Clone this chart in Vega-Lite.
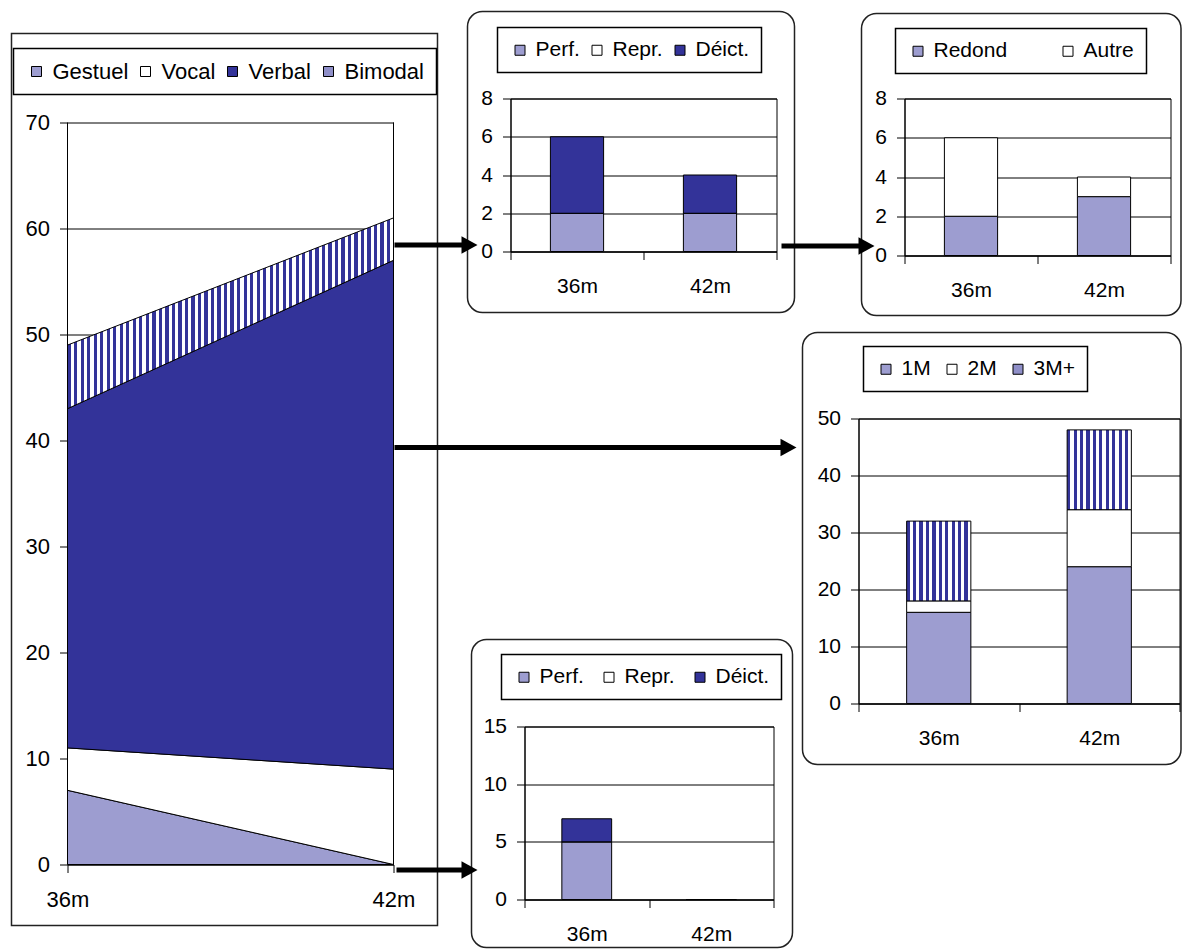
{
"$schema": "https://vega.github.io/schema/vega-lite/v6.json",
"padding": {"left": 10.5, "top": 10.5, "right": 0, "bottom": 0},
"background": "white",
"datasets": {"one": [{"s": 0}]},
"config": {
 "font": "Liberation Sans",
 "view": {"stroke": "#000", "strokeWidth": 1},
 "axis": {"labelFont": "Liberation Sans", "labelFontSize": 21, "labelColor": "#000", "domainColor": "#000", "domainWidth": 1, "tickColor": "#000", "tickWidth": 1, "tickSize": 8, "gridColor": "#000", "gridOpacity": 1, "gridWidth": 1, "labelPadding": 10},
 "axisX": {"labelPadding": 16, "labelAngle": 0, "grid": false},
 "axisY": {"grid": true},
 "legend": {"orient": "none", "direction": "horizontal", "symbolType": "square", "symbolSize": 100, "symbolStrokeColor": "#000", "symbolStrokeWidth": 1, "labelFont": "Liberation Sans", "labelFontSize": 21, "labelColor": "#000", "labelOffset": 5, "padding": 12, "strokeColor": "#000", "strokeWidth": 1.5, "fillColor": "#fff"}
},
"concat": [
 {
  "width": 326, "height": 766,
  "view": {"stroke": null},
  "layer": [
   {
    "data": {"values": [
     {"age": 36, "type": "Gestuel", "value": 7, "k": 1},
     {"age": 36, "type": "Vocal", "value": 4, "k": 2},
     {"age": 36, "type": "Verbal", "value": 32, "k": 3},
     {"age": 36, "type": "Bimodal", "value": 6, "k": 4},
     {"age": 42, "type": "Gestuel", "value": 0, "k": 1},
     {"age": 42, "type": "Vocal", "value": 9, "k": 2},
     {"age": 42, "type": "Verbal", "value": 48, "k": 3},
     {"age": 42, "type": "Bimodal", "value": 4, "k": 4}
    ]},
    "mark": {"type": "area", "stroke": "#000", "strokeWidth": 1},
    "encoding": {
     "x": {"field": "age", "type": "quantitative", "scale": {"domain": [36, 42], "nice": false, "zero": false}, "axis": {"title": null, "values": [36, 42], "labelExpr": "datum.value + 'm'", "labelFlush": false, "labelFontSize": 22, "labelPadding": 17, "grid": false}},
     "y": {"field": "value", "type": "quantitative", "stack": "zero", "scale": {"domain": [0, 72.2642], "nice": false, "zero": true}, "axis": {"title": null, "values": [0, 10, 20, 30, 40, 50, 60, 70], "labelFontSize": 22, "domain": false, "grid": true}},
     "fill": {"field": "type", "type": "nominal",
      "scale": {"domain": ["Gestuel", "Vocal", "Verbal", "Bimodal"], "range": ["#9d9dd0", "#ffffff", "#333399", "#8f8fc8"]},
      "legend": {"title": null, "orient": "none", "legendX": -54, "legendY": -50, "labelFontSize": 22, "columnPadding": 6,
       "encode": {"symbols": {"update": {"stroke": {"value": "#000"}, "strokeWidth": {"value": 1}, "fill": [{"test": "datum.value === 'Gestuel'", "value": "#9d9dd0"}, {"test": "datum.value === 'Verbal'", "value": "#333399"}, {"test": "datum.value === 'Bimodal'", "value": {"gradient": "linear", "x1": 0, "y1": 0, "x2": 1, "y2": 0, "stops": [{"offset": 0, "color": "#fff"}, {"offset": 0.3, "color": "#fff"}, {"offset": 0.3, "color": "#339"}, {"offset": 0.7, "color": "#339"}, {"offset": 0.7, "color": "#fff"}, {"offset": 1, "color": "#fff"}]}}, {"value": "#ffffff"}]}}}},
      "condition": {"test": "datum.type === 'Bimodal'", "value": {"gradient": "linear", "x1": 0, "y1": 0, "x2": 1, "y2": 0, "stops": [
{"offset":0,"color":"#339"},{"offset":0.01,"color":"#339"},{"offset":0.01,"color":"#fff"},{"offset":0.02,"color":"#fff"},
{"offset":0.02,"color":"#339"},{"offset":0.03,"color":"#339"},{"offset":0.03,"color":"#fff"},{"offset":0.04,"color":"#fff"},
{"offset":0.04,"color":"#339"},{"offset":0.05,"color":"#339"},{"offset":0.05,"color":"#fff"},{"offset":0.06,"color":"#fff"},
{"offset":0.06,"color":"#339"},{"offset":0.07,"color":"#339"},{"offset":0.07,"color":"#fff"},{"offset":0.08,"color":"#fff"},
{"offset":0.08,"color":"#339"},{"offset":0.09,"color":"#339"},{"offset":0.09,"color":"#fff"},{"offset":0.10,"color":"#fff"},
{"offset":0.10,"color":"#339"},{"offset":0.11,"color":"#339"},{"offset":0.11,"color":"#fff"},{"offset":0.12,"color":"#fff"},
{"offset":0.12,"color":"#339"},{"offset":0.13,"color":"#339"},{"offset":0.13,"color":"#fff"},{"offset":0.14,"color":"#fff"},
{"offset":0.14,"color":"#339"},{"offset":0.15,"color":"#339"},{"offset":0.15,"color":"#fff"},{"offset":0.16,"color":"#fff"},
{"offset":0.16,"color":"#339"},{"offset":0.17,"color":"#339"},{"offset":0.17,"color":"#fff"},{"offset":0.18,"color":"#fff"},
{"offset":0.18,"color":"#339"},{"offset":0.19,"color":"#339"},{"offset":0.19,"color":"#fff"},{"offset":0.20,"color":"#fff"},
{"offset":0.20,"color":"#339"},{"offset":0.21,"color":"#339"},{"offset":0.21,"color":"#fff"},{"offset":0.22,"color":"#fff"},
{"offset":0.22,"color":"#339"},{"offset":0.23,"color":"#339"},{"offset":0.23,"color":"#fff"},{"offset":0.24,"color":"#fff"},
{"offset":0.24,"color":"#339"},{"offset":0.25,"color":"#339"},{"offset":0.25,"color":"#fff"},{"offset":0.26,"color":"#fff"},
{"offset":0.26,"color":"#339"},{"offset":0.27,"color":"#339"},{"offset":0.27,"color":"#fff"},{"offset":0.28,"color":"#fff"},
{"offset":0.28,"color":"#339"},{"offset":0.29,"color":"#339"},{"offset":0.29,"color":"#fff"},{"offset":0.30,"color":"#fff"},
{"offset":0.30,"color":"#339"},{"offset":0.31,"color":"#339"},{"offset":0.31,"color":"#fff"},{"offset":0.32,"color":"#fff"},
{"offset":0.32,"color":"#339"},{"offset":0.33,"color":"#339"},{"offset":0.33,"color":"#fff"},{"offset":0.34,"color":"#fff"},
{"offset":0.34,"color":"#339"},{"offset":0.35,"color":"#339"},{"offset":0.35,"color":"#fff"},{"offset":0.36,"color":"#fff"},
{"offset":0.36,"color":"#339"},{"offset":0.37,"color":"#339"},{"offset":0.37,"color":"#fff"},{"offset":0.38,"color":"#fff"},
{"offset":0.38,"color":"#339"},{"offset":0.39,"color":"#339"},{"offset":0.39,"color":"#fff"},{"offset":0.40,"color":"#fff"},
{"offset":0.40,"color":"#339"},{"offset":0.41,"color":"#339"},{"offset":0.41,"color":"#fff"},{"offset":0.42,"color":"#fff"},
{"offset":0.42,"color":"#339"},{"offset":0.43,"color":"#339"},{"offset":0.43,"color":"#fff"},{"offset":0.44,"color":"#fff"},
{"offset":0.44,"color":"#339"},{"offset":0.45,"color":"#339"},{"offset":0.45,"color":"#fff"},{"offset":0.46,"color":"#fff"},
{"offset":0.46,"color":"#339"},{"offset":0.47,"color":"#339"},{"offset":0.47,"color":"#fff"},{"offset":0.48,"color":"#fff"},
{"offset":0.48,"color":"#339"},{"offset":0.49,"color":"#339"},{"offset":0.49,"color":"#fff"},{"offset":0.50,"color":"#fff"},
{"offset":0.50,"color":"#339"},{"offset":0.51,"color":"#339"},{"offset":0.51,"color":"#fff"},{"offset":0.52,"color":"#fff"},
{"offset":0.52,"color":"#339"},{"offset":0.53,"color":"#339"},{"offset":0.53,"color":"#fff"},{"offset":0.54,"color":"#fff"},
{"offset":0.54,"color":"#339"},{"offset":0.55,"color":"#339"},{"offset":0.55,"color":"#fff"},{"offset":0.56,"color":"#fff"},
{"offset":0.56,"color":"#339"},{"offset":0.57,"color":"#339"},{"offset":0.57,"color":"#fff"},{"offset":0.58,"color":"#fff"},
{"offset":0.58,"color":"#339"},{"offset":0.59,"color":"#339"},{"offset":0.59,"color":"#fff"},{"offset":0.60,"color":"#fff"},
{"offset":0.60,"color":"#339"},{"offset":0.61,"color":"#339"},{"offset":0.61,"color":"#fff"},{"offset":0.62,"color":"#fff"},
{"offset":0.62,"color":"#339"},{"offset":0.63,"color":"#339"},{"offset":0.63,"color":"#fff"},{"offset":0.64,"color":"#fff"},
{"offset":0.64,"color":"#339"},{"offset":0.65,"color":"#339"},{"offset":0.65,"color":"#fff"},{"offset":0.66,"color":"#fff"},
{"offset":0.66,"color":"#339"},{"offset":0.67,"color":"#339"},{"offset":0.67,"color":"#fff"},{"offset":0.68,"color":"#fff"},
{"offset":0.68,"color":"#339"},{"offset":0.69,"color":"#339"},{"offset":0.69,"color":"#fff"},{"offset":0.70,"color":"#fff"},
{"offset":0.70,"color":"#339"},{"offset":0.71,"color":"#339"},{"offset":0.71,"color":"#fff"},{"offset":0.72,"color":"#fff"},
{"offset":0.72,"color":"#339"},{"offset":0.73,"color":"#339"},{"offset":0.73,"color":"#fff"},{"offset":0.74,"color":"#fff"},
{"offset":0.74,"color":"#339"},{"offset":0.75,"color":"#339"},{"offset":0.75,"color":"#fff"},{"offset":0.76,"color":"#fff"},
{"offset":0.76,"color":"#339"},{"offset":0.77,"color":"#339"},{"offset":0.77,"color":"#fff"},{"offset":0.78,"color":"#fff"},
{"offset":0.78,"color":"#339"},{"offset":0.79,"color":"#339"},{"offset":0.79,"color":"#fff"},{"offset":0.80,"color":"#fff"},
{"offset":0.80,"color":"#339"},{"offset":0.81,"color":"#339"},{"offset":0.81,"color":"#fff"},{"offset":0.82,"color":"#fff"},
{"offset":0.82,"color":"#339"},{"offset":0.83,"color":"#339"},{"offset":0.83,"color":"#fff"},{"offset":0.84,"color":"#fff"},
{"offset":0.84,"color":"#339"},{"offset":0.85,"color":"#339"},{"offset":0.85,"color":"#fff"},{"offset":0.86,"color":"#fff"},
{"offset":0.86,"color":"#339"},{"offset":0.87,"color":"#339"},{"offset":0.87,"color":"#fff"},{"offset":0.88,"color":"#fff"},
{"offset":0.88,"color":"#339"},{"offset":0.89,"color":"#339"},{"offset":0.89,"color":"#fff"},{"offset":0.90,"color":"#fff"},
{"offset":0.90,"color":"#339"},{"offset":0.91,"color":"#339"},{"offset":0.91,"color":"#fff"},{"offset":0.92,"color":"#fff"},
{"offset":0.92,"color":"#339"},{"offset":0.93,"color":"#339"},{"offset":0.93,"color":"#fff"},{"offset":0.94,"color":"#fff"},
{"offset":0.94,"color":"#339"},{"offset":0.95,"color":"#339"},{"offset":0.95,"color":"#fff"},{"offset":0.96,"color":"#fff"},
{"offset":0.96,"color":"#339"},{"offset":0.97,"color":"#339"},{"offset":0.97,"color":"#fff"},{"offset":0.98,"color":"#fff"},
{"offset":0.98,"color":"#339"},{"offset":0.99,"color":"#339"},{"offset":0.99,"color":"#fff"},{"offset":1,"color":"#fff"}
      ]}}
     },
     "order": {"field": "k", "type": "quantitative"}
    }
   },
   {"data": {"name": "one"}, "mark": {"type": "rule", "color": "#000", "strokeWidth": 1}, "encoding": {"x": {"datum": 36}, "y": {"datum": 0}, "y2": {"datum": 70}}},
   {"data": {"name": "one"}, "mark": {"type": "rule", "color": "#000", "strokeWidth": 1}, "encoding": {"x": {"datum": 42}, "y": {"datum": 0}, "y2": {"datum": 70}}},
   {"data": {"name": "one"}, "mark": {"type": "rect", "fill": "transparent", "stroke": "#222", "strokeWidth": 1.5}, "encoding": {"x": {"datum": 34.9693}, "x2": {"datum": 42.8098}, "y": {"datum": 78.3962}, "y2": {"datum": -5.7547}}},
   {"data": {"name": "one"}, "mark": {"type": "rect", "fill": "transparent", "stroke": "#222", "strokeWidth": 1.5, "cornerRadius": 15}, "encoding": {"x": {"datum": 43.362}, "x2": {"datum": 49.3804}, "y": {"datum": 80.4717}, "y2": {"datum": 52.0755}}},
   {"data": {"name": "one"}, "mark": {"type": "rect", "fill": "transparent", "stroke": "#222", "strokeWidth": 1.5, "cornerRadius": 15}, "encoding": {"x": {"datum": 50.6135}, "x2": {"datum": 56.4939}, "y": {"datum": 80.283}, "y2": {"datum": 51.7925}}},
   {"data": {"name": "one"}, "mark": {"type": "rect", "fill": "transparent", "stroke": "#222", "strokeWidth": 1.5, "cornerRadius": 15}, "encoding": {"x": {"datum": 49.5276}, "x2": {"datum": 56.4939}, "y": {"datum": 50.1887}, "y2": {"datum": 9.434}}},
   {"data": {"name": "one"}, "mark": {"type": "rect", "fill": "transparent", "stroke": "#222", "strokeWidth": 1.5, "cornerRadius": 15}, "encoding": {"x": {"datum": 43.4356}, "x2": {"datum": 49.3436}, "y": {"datum": 21.2264}, "y2": {"datum": -7.8302}}},
   {"data": {"name": "one"}, "mark": {"type": "rule", "color": "#000", "strokeWidth": 5}, "encoding": {"x": {"datum": 42.0184}, "x2": {"datum": 43.3252}, "y": {"datum": 58.4434}}},
   {"data": {"name": "one"}, "mark": {"type": "rule", "color": "#000", "strokeWidth": 5}, "encoding": {"x": {"datum": 49.1411}, "x2": {"datum": 50.6135}, "y": {"datum": 58.3491}}},
   {"data": {"name": "one"}, "mark": {"type": "rule", "color": "#000", "strokeWidth": 5}, "encoding": {"x": {"datum": 42.0184}, "x2": {"datum": 49.1963}, "y": {"datum": 39.3396}}},
   {"data": {"name": "one"}, "mark": {"type": "rule", "color": "#000", "strokeWidth": 5}, "encoding": {"x": {"datum": 42.0552}, "x2": {"datum": 43.3252}, "y": {"datum": -0.5189}}},
   {"data": {"name": "one"}, "mark": {"type": "point", "shape": "M-1,-1.1L1,0L-1,1.1Z", "filled": true, "color": "#000", "opacity": 1, "size": 256, "strokeWidth": 0}, "encoding": {"x": {"datum": 43.3988}, "y": {"datum": 58.4434}}},
   {"data": {"name": "one"}, "mark": {"type": "point", "shape": "M-1,-1.1L1,0L-1,1.1Z", "filled": true, "color": "#000", "opacity": 1, "size": 256, "strokeWidth": 0}, "encoding": {"x": {"datum": 50.7055}, "y": {"datum": 58.3491}}},
   {"data": {"name": "one"}, "mark": {"type": "point", "shape": "M-1,-1.1L1,0L-1,1.1Z", "filled": true, "color": "#000", "opacity": 1, "size": 256, "strokeWidth": 0}, "encoding": {"x": {"datum": 49.2699}, "y": {"datum": 39.3396}}},
   {"data": {"name": "one"}, "mark": {"type": "point", "shape": "M-1,-1.1L1,0L-1,1.1Z", "filled": true, "color": "#000", "opacity": 1, "size": 256, "strokeWidth": 0}, "encoding": {"x": {"datum": 43.3988}, "y": {"datum": -0.5189}}}
  ]
 },
 {
  "concat": [
   {
    "width": 266, "height": 153,
    "data": {"values": [
     {"age": "36m", "type": "Perf.", "value": 2, "k": 1},
     {"age": "36m", "type": "Repr.", "value": 0, "k": 2},
     {"age": "36m", "type": "Déict.", "value": 4, "k": 3},
     {"age": "42m", "type": "Perf.", "value": 2, "k": 1},
     {"age": "42m", "type": "Repr.", "value": 0, "k": 2},
     {"age": "42m", "type": "Déict.", "value": 2, "k": 3}
    ]},
    "mark": {"type": "bar", "width": {"band": 0.4}, "stroke": "#000", "strokeWidth": 1},
    "encoding": {
     "x": {"field": "age", "type": "nominal", "scale": {"domain": ["36m", "42m"], "paddingInner": 0, "paddingOuter": 0}, "axis": {"title": null, "tickBand": "extent", "labelAngle": 0}},
     "y": {"field": "value", "type": "quantitative", "stack": "zero", "scale": {"domain": [0, 8], "nice": false}, "axis": {"title": null, "values": [0, 2, 4, 6, 8]}},
     "fill": {"field": "type", "type": "nominal", "scale": {"domain": ["Perf.", "Repr.", "Déict."], "range": ["#9d9dd0", "#ffffff", "#333399"]}, "legend": {"title": null, "orient": "none", "legendX": -13, "legendY": -71, "columnPadding": 6}},
     "order": {"field": "k", "type": "quantitative"}
    }
   },
   {
    "concat": [
     {
      "width": 266, "height": 157,
      "data": {"values": [
       {"age": "36m", "type": "Redond", "value": 2, "k": 1},
       {"age": "36m", "type": "Autre", "value": 4, "k": 2},
       {"age": "42m", "type": "Redond", "value": 3, "k": 1},
       {"age": "42m", "type": "Autre", "value": 1, "k": 2}
      ]},
      "mark": {"type": "bar", "width": {"band": 0.4}, "stroke": "#000", "strokeWidth": 1},
      "encoding": {
       "x": {"field": "age", "type": "nominal", "scale": {"domain": ["36m", "42m"], "paddingInner": 0, "paddingOuter": 0}, "axis": {"title": null, "tickBand": "extent", "labelAngle": 0}},
       "y": {"field": "value", "type": "quantitative", "stack": "zero", "scale": {"domain": [0, 8], "nice": false}, "axis": {"title": null, "values": [0, 2, 4, 6, 8]}},
       "fill": {"field": "type", "type": "nominal", "scale": {"domain": ["Redond", "Autre"], "range": ["#9d9dd0", "#ffffff"]}, "legend": {"title": null, "orient": "none", "legendX": -9, "legendY": -70, "columnPadding": 50}},
       "order": {"field": "k", "type": "quantitative"}
      }
     },
     {
      "concat": [
       {"width": 1, "height": 1, "view": {"stroke": null}, "data": {"name": "one"}, "mark": {"type": "point", "opacity": 0}, "encoding": {}},
       {
        "concat": [
         {
          "width": 321, "height": 285,
          "data": {"values": [
           {"age": "36m", "type": "1M", "value": 16, "k": 1},
           {"age": "36m", "type": "2M", "value": 2, "k": 2},
           {"age": "36m", "type": "3M+", "value": 14, "k": 3},
           {"age": "42m", "type": "1M", "value": 24, "k": 1},
           {"age": "42m", "type": "2M", "value": 10, "k": 2},
           {"age": "42m", "type": "3M+", "value": 14, "k": 3}
          ]},
          "mark": {"type": "bar", "width": {"band": 0.4}, "stroke": "#000", "strokeWidth": 1},
          "encoding": {
           "x": {"field": "age", "type": "nominal", "scale": {"domain": ["36m", "42m"], "paddingInner": 0, "paddingOuter": 0}, "axis": {"title": null, "tickBand": "extent", "labelAngle": 0}},
           "y": {"field": "value", "type": "quantitative", "stack": "zero", "scale": {"domain": [0, 50], "nice": false}, "axis": {"title": null, "values": [0, 10, 20, 30, 40, 50]}},
           "fill": {"field": "type", "type": "nominal",
            "scale": {"domain": ["1M", "2M", "3M+"], "range": ["#9d9dd0", "#ffffff", "#8f8fc8"]},
            "legend": {"title": null, "orient": "none", "legendX": 5, "legendY": -72, "columnPadding": 10,
             "encode": {"symbols": {"update": {"stroke": {"value": "#000"}, "strokeWidth": {"value": 1}, "fill": [{"test": "datum.value === '1M'", "value": "#9d9dd0"}, {"test": "datum.value === '3M+'", "value": {"gradient": "linear", "x1": 0, "y1": 0, "x2": 1, "y2": 0, "stops": [{"offset": 0, "color": "#fff"}, {"offset": 0.3, "color": "#fff"}, {"offset": 0.3, "color": "#339"}, {"offset": 0.7, "color": "#339"}, {"offset": 0.7, "color": "#fff"}, {"offset": 1, "color": "#fff"}]}}, {"value": "#ffffff"}]}}}},
            "condition": {"test": "datum.type === '3M+'", "value": {"gradient": "linear", "x1": 0, "y1": 0, "x2": 1, "y2": 0, "stops": [
{"offset":0,"color":"#339"},{"offset":0.05,"color":"#339"},{"offset":0.05,"color":"#fff"},{"offset":0.1,"color":"#fff"},
{"offset":0.1,"color":"#339"},{"offset":0.15,"color":"#339"},{"offset":0.15,"color":"#fff"},{"offset":0.2,"color":"#fff"},
{"offset":0.2,"color":"#339"},{"offset":0.25,"color":"#339"},{"offset":0.25,"color":"#fff"},{"offset":0.3,"color":"#fff"},
{"offset":0.3,"color":"#339"},{"offset":0.35,"color":"#339"},{"offset":0.35,"color":"#fff"},{"offset":0.4,"color":"#fff"},
{"offset":0.4,"color":"#339"},{"offset":0.45,"color":"#339"},{"offset":0.45,"color":"#fff"},{"offset":0.5,"color":"#fff"},
{"offset":0.5,"color":"#339"},{"offset":0.55,"color":"#339"},{"offset":0.55,"color":"#fff"},{"offset":0.6,"color":"#fff"},
{"offset":0.6,"color":"#339"},{"offset":0.65,"color":"#339"},{"offset":0.65,"color":"#fff"},{"offset":0.7,"color":"#fff"},
{"offset":0.7,"color":"#339"},{"offset":0.75,"color":"#339"},{"offset":0.75,"color":"#fff"},{"offset":0.8,"color":"#fff"},
{"offset":0.8,"color":"#339"},{"offset":0.85,"color":"#339"},{"offset":0.85,"color":"#fff"},{"offset":0.9,"color":"#fff"},
{"offset":0.9,"color":"#339"},{"offset":0.95,"color":"#339"},{"offset":0.95,"color":"#fff"},{"offset":1,"color":"#fff"}
            ]}}
           },
           "order": {"field": "k", "type": "quantitative"}
          }
         },
         {
          "concat": [
           {"width": 1, "height": 1, "view": {"stroke": null}, "data": {"name": "one"}, "mark": {"type": "point", "opacity": 0}, "encoding": {}},
           {
            "width": 249, "height": 173,
            "data": {"values": [
             {"age": "36m", "type": "Perf.", "value": 5, "k": 1},
             {"age": "36m", "type": "Repr.", "value": 0, "k": 2},
             {"age": "36m", "type": "Déict.", "value": 2, "k": 3},
             {"age": "42m", "type": "Perf.", "value": 0, "k": 1},
             {"age": "42m", "type": "Repr.", "value": 0, "k": 2},
             {"age": "42m", "type": "Déict.", "value": 0, "k": 3}
            ]},
            "mark": {"type": "bar", "width": {"band": 0.4}, "stroke": "#000", "strokeWidth": 1},
            "encoding": {
             "x": {"field": "age", "type": "nominal", "scale": {"domain": ["36m", "42m"], "paddingInner": 0, "paddingOuter": 0}, "axis": {"title": null, "tickBand": "extent", "labelAngle": 0}},
             "y": {"field": "value", "type": "quantitative", "stack": "zero", "scale": {"domain": [0, 15], "nice": false}, "axis": {"title": null, "values": [0, 5, 10, 15]}},
             "fill": {"field": "type", "type": "nominal", "scale": {"domain": ["Perf.", "Repr.", "Déict."], "range": ["#9d9dd0", "#ffffff", "#333399"]}, "legend": {"title": null, "orient": "none", "legendX": -23, "legendY": -72, "columnPadding": 14}},
             "order": {"field": "k", "type": "quantitative"}
            }
           }
          ],
          "columns": 2, "spacing": -335, "bounds": "flush", "align": "none",
          "resolve": {"scale": {"fill": "independent"}}
         }
        ],
        "columns": 1, "spacing": 23, "bounds": "flush", "align": "none",
        "resolve": {"scale": {"fill": "independent"}}
       }
      ],
      "columns": 2, "spacing": -47, "bounds": "flush", "align": "none",
      "resolve": {"scale": {"fill": "independent"}}
     }
    ],
    "columns": 1, "spacing": 163, "bounds": "flush", "align": "none",
    "resolve": {"scale": {"fill": "independent"}}
   }
  ],
  "columns": 2, "spacing": 128, "bounds": "flush", "align": "none",
  "resolve": {"scale": {"fill": "independent"}}
 }
],
"columns": 2, "spacing": 117, "bounds": "flush", "align": "none",
"resolve": {"scale": {"fill": "independent"}}
}
